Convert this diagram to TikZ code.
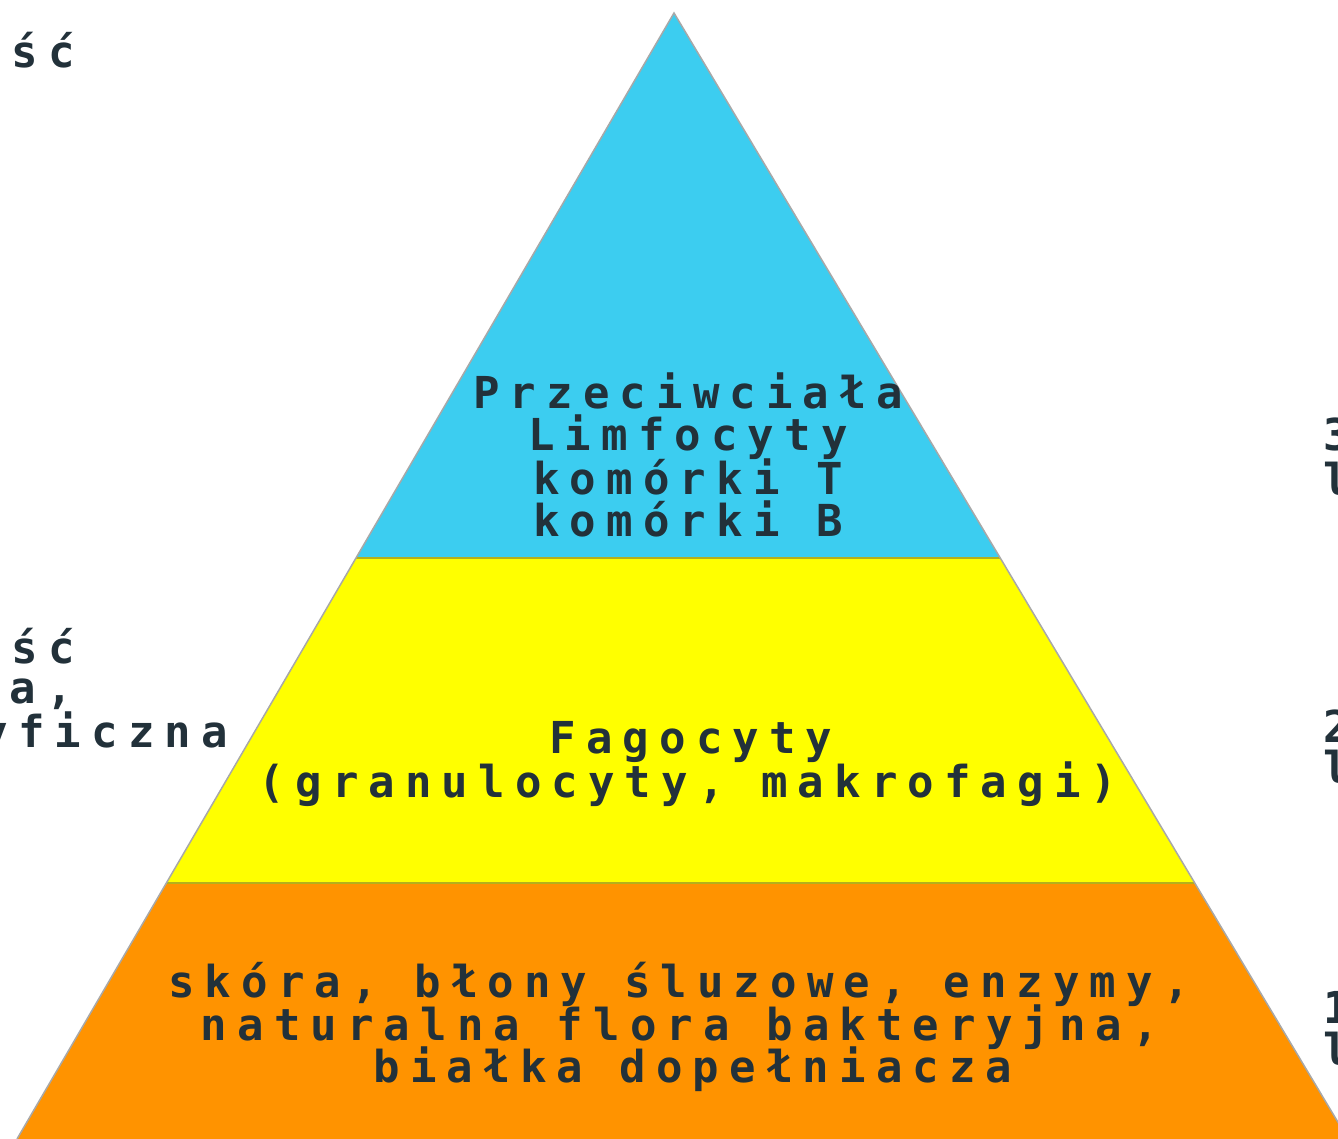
\documentclass[tikz,border=0pt]{standalone}
\usepackage{fontspec}
\usetikzlibrary{calc}
\newfontfamily\pix[LetterSpace=23]{DejaVu Sans Mono}
\definecolor{sky}{HTML}{3CCDF0}
\definecolor{yel}{HTML}{FFFF00}
\definecolor{org}{HTML}{FF9300}
\definecolor{ink}{HTML}{22313A}
\definecolor{sepline}{HTML}{B4B01C}
\definecolor{edgegray}{HTML}{A8A8A8}
\begin{document}
\begin{tikzpicture}[x=1pt,y=-1pt,
  txt/.style={font=\pix\bfseries\fontsize{44}{44}\selectfont, text=ink, inner sep=0pt, anchor=base},
  sidetxt/.style={txt, anchor=base east},
  righttxt/.style={txt, anchor=base west}]
\useasboundingbox (0,0) rectangle (1338,1139);
\clip (0,0) rectangle (1338,1139);
\fill[white] (0,0) rectangle (1338,1139);
% pyramid geometry
\coordinate (A) at (674,13);
\coordinate (BL) at (17,1139);
\coordinate (BR) at (1348,1139);
\coordinate (L1) at ($(A)!0.4840!(BL)$);
\coordinate (R1) at ($(A)!0.4840!(BR)$);
\coordinate (L2) at ($(A)!0.7726!(BL)$);
\coordinate (R2) at ($(A)!0.7726!(BR)$);
\fill[sky] (A) -- (L1) -- (R1) -- cycle;
\fill[yel] (L1) -- (L2) -- (R2) -- (R1) -- cycle;
\fill[org] (L2) -- (BL) -- (BR) -- (R2) -- cycle;
\draw[sepline, line width=2.5pt] (L1) -- (R1);
\draw[sepline, line width=2.5pt] (L2) -- (R2);
\draw[edgegray, line width=1.5pt, line join=miter] (BL) -- (A) -- (BR);
% blue band
\node[txt] (t1) at (688,408) {Przeciwciała};
\node[txt] (t2) at (688,450) {Limfocyty};
\node[txt] (t3) at (688,494) {komórki T};
\node[txt] (t4) at (688,536) {komórki B};
% yellow band
\node[txt] (t5) at (691,753) {Fagocyty};
\node[txt] (t6) at (688,797) {(granulocyty, makrofagi)};
% orange band
\node[txt] (t7) at (679,997) {skóra, błony śluzowe, enzymy,};
\node[txt] (t8) at (680,1040) {naturalna flora bakteryjna,};
\node[txt] (t9) at (693,1082) {białka dopełniacza};
% side labels (cut off by the picture edge)
\node[sidetxt] (s1) at (75,68) {Odporność};
\node[sidetxt] (s2) at (75,663) {Odporność};
\node[sidetxt] (s3) at (73,703) {wrodzona,};
\node[sidetxt] (s4) at (228,747) {niespecyficzna};
\node[righttxt] (r1) at (1323,450) {3.};
\node[righttxt] (r2) at (1323,495) {linia};
\node[righttxt] (r3) at (1323,742) {2.};
\node[righttxt] (r4) at (1323,783) {linia};
\node[righttxt] (r5) at (1323,1023) {1.};
\node[righttxt] (r6) at (1323,1065) {linia};
\end{tikzpicture}
\end{document}
